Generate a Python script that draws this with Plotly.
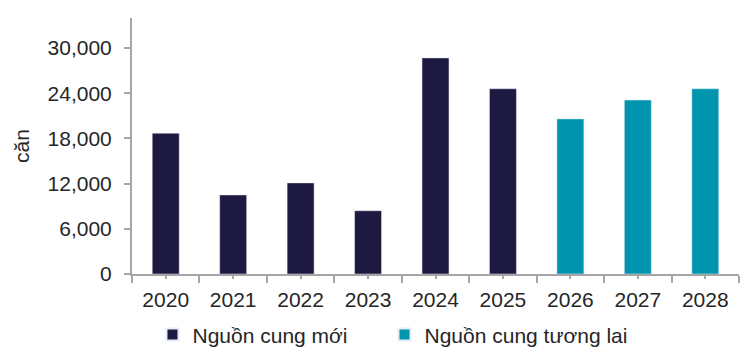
import plotly.graph_objects as go

years = ["2020", "2021", "2022", "2023", "2024", "2025", "2026", "2027", "2028"]
new_supply = [18700, 10500, 12100, 8400, 28700, 24600, None, None, None]
future_supply = [None, None, None, None, None, None, 20600, 23100, 24600]
y_ticks = [0, 6000, 12000, 18000, 24000, 30000]
y_tick_text = ["0", "6,000", "12,000", "18,000", "24,000", "30,000"]

NAVY = "#1E1940"
TEAL = "#0094AF"
GRAY = "#A6A6A6"
TXT = "#262626"
FONT = "Liberation Sans, Arial, sans-serif"

fig = go.Figure()
fig.add_trace(go.Bar(x=years, y=new_supply, name="Nguồn cung mới",
                     marker_color=NAVY, width=0.4, legend="legend"))
fig.add_trace(go.Bar(x=years, y=future_supply, name="Nguồn cung tương lai",
                     marker_color=TEAL, width=0.4, legend="legend2"))
# invisible trace to carry centre tick marks on an overlaid axis
fig.add_trace(go.Bar(x=years, y=[None] * len(years), xaxis="x2",
                     showlegend=False, hoverinfo="skip"))

leg_common = dict(orientation="h", xref="container", yref="container",
                  xanchor="left", y=0.07, yanchor="middle",
                  font=dict(size=21, color=TXT), itemsizing="constant",
                  bgcolor="rgba(0,0,0,0)")

fig.update_layout(
    width=753, height=360,
    margin=dict(l=132, r=14, t=18, b=86, autoexpand=False),
    paper_bgcolor="white", plot_bgcolor="white",
    barmode="overlay",
    font=dict(family=FONT, size=21, color=TXT),
    showlegend=True,
    legend=dict(x=0.2025, **leg_common),
    legend2=dict(x=0.5106, **leg_common),
    xaxis=dict(type="category", categoryorder="array", categoryarray=years,
               showline=True, linecolor=GRAY, linewidth=2,
               ticks="outside", tickson="boundaries", ticklen=7, tickwidth=2,
               tickcolor=GRAY, showgrid=False, zeroline=False,
               ticklabelstandoff=6,
               tickfont=dict(size=21, color=TXT), range=[-0.5, 8.5]),
    xaxis2=dict(type="category", categoryorder="array", categoryarray=years,
                overlaying="x", side="bottom", anchor="y", showline=False,
                ticks="outside", ticklen=4, tickwidth=2, tickcolor=GRAY,
                showticklabels=False, showgrid=False, zeroline=False,
                range=[-0.5, 8.5]),
    yaxis=dict(range=[0, 34000], tickvals=y_ticks, ticktext=y_tick_text,
               showline=True, linecolor=GRAY, linewidth=2,
               ticks="outside", ticklen=6, tickwidth=2, tickcolor=GRAY,
               showgrid=False, zeroline=False, ticklabelstandoff=8,
               tickfont=dict(size=21, color=TXT),
               title=dict(text="căn", font=dict(size=21, color=TXT),
                          standoff=12)),
)

fig.write_html("out.html")
